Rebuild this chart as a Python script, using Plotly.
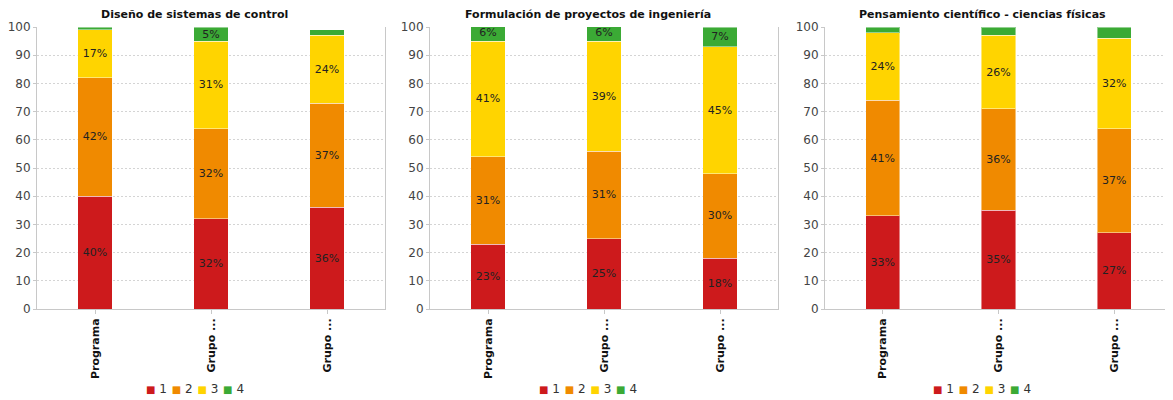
import plotly.graph_objects as go

titles = ["Diseño de sistemas de control",
          "Formulación de proyectos de ingeniería",
          "Pensamiento científico - ciencias físicas"]
categories = ["Programa", "Grupo 1", "Grupo 2"]
tick_labels = ["Programa", "Grupo ...", "Grupo ..."]
series_names = ["1", "2", "3", "4"]
colors = ["#CD1A1C", "#F08A00", "#FFD400", "#3BAA35"]

# values per chart: [series1, series2, series3, series4] over categories
chart1 = [[40, 32, 36], [42, 32, 37], [17, 31, 24], [1, 5, 2]]
chart2 = [[23, 25, 18], [31, 31, 30], [41, 39, 45], [6, 6, 7]]
chart3 = [[33, 35, 27], [41, 36, 37], [24, 26, 32], [2, 3, 4]]
charts = [chart1, chart2, chart3]

W, H = 1173, 400
OFF = 8  # page body margin in the browser


def px(s):
    return (s - OFF) / W


def py(s):
    return (H - (s - OFF)) / H


x_domains = [[px(37), px(385)], [px(430), px(778)], [px(825), px(1172)]]
y_domain = [py(309), py(27)]
centers = [px(195), px(588), px(982)]

fig = go.Figure()
layout = dict(
    width=W, height=H,
    margin=dict(l=0, r=0, t=0, b=0, autoexpand=False),
    paper_bgcolor="white", plot_bgcolor="white",
    barmode="stack", bargap=0.705,
    showlegend=False,
    font=dict(family="DejaVu Sans", size=12, color="#333"),
    uniformtext=dict(minsize=11, mode="show"),
    annotations=[],
)

for i, (title, data) in enumerate(zip(titles, charts)):
    xa = "x" if i == 0 else f"x{i+1}"
    ya = "y" if i == 0 else f"y{i+1}"
    for s, (name, color, vals) in enumerate(zip(series_names, colors, data)):
        fig.add_trace(go.Bar(
            x=categories, y=vals, name=name,
            xaxis=xa, yaxis=ya,
            marker=dict(color=color, line=dict(color="rgba(255,255,255,0.45)", width=1)),
            text=[f"{v}%" if v >= 5 else "" for v in vals],
            textposition="inside", insidetextanchor="middle", textangle=0,
            textfont=dict(family="DejaVu Sans", size=11, color="#222"),
            hoverinfo="skip",
        ))
    xkey = "xaxis" if i == 0 else f"xaxis{i+1}"
    ykey = "yaxis" if i == 0 else f"yaxis{i+1}"
    layout[xkey] = dict(
        domain=x_domains[i], anchor=ya, automargin=False,
        type="category", categoryorder="array", categoryarray=categories,
        tickvals=categories, ticktext=tick_labels, tickangle=-90,
        tickfont=dict(family="DejaVu Sans", size=11, color="#111", weight="bold"),
        showline=True, linecolor="#c8c8c8", linewidth=1,
        ticks="outside", ticklen=4, tickcolor="#c8c8c8",
        showgrid=False, zeroline=False,
    )
    layout[ykey] = dict(
        domain=y_domain, anchor=xa, range=[0, 100], automargin=False,
        tick0=0, dtick=10,
        tickfont=dict(family="DejaVu Sans", size=12, color="#444"),
        showline=True, mirror=True, linecolor="#c8c8c8", linewidth=1,
        ticks="outside", ticklen=3, tickcolor="#c8c8c8",
        showgrid=True, gridcolor="#d4d4d4", griddash="2px,2px", gridwidth=1,
        zeroline=False,
    )
    layout["annotations"].append(dict(
        text=f"<b>{title}</b>", xref="paper", yref="paper",
        x=centers[i], y=py(14), xanchor="center", yanchor="middle",
        showarrow=False, font=dict(family="DejaVu Sans", size=11, color="#111"),
    ))
    legend_text = "\u2009\u2009".join(
        f"<span style='color:{c};font-size:10px'>■</span>\u00a0{n}"
        for n, c in zip(series_names, colors)
    )
    layout["annotations"].append(dict(
        text=legend_text, xref="paper", yref="paper",
        x=centers[i], y=py(389), xanchor="center", yanchor="middle",
        showarrow=False, font=dict(family="DejaVu Sans", size=12, color="#333"),
    ))

fig.update_layout(**layout)
fig.write_html("out.html")
